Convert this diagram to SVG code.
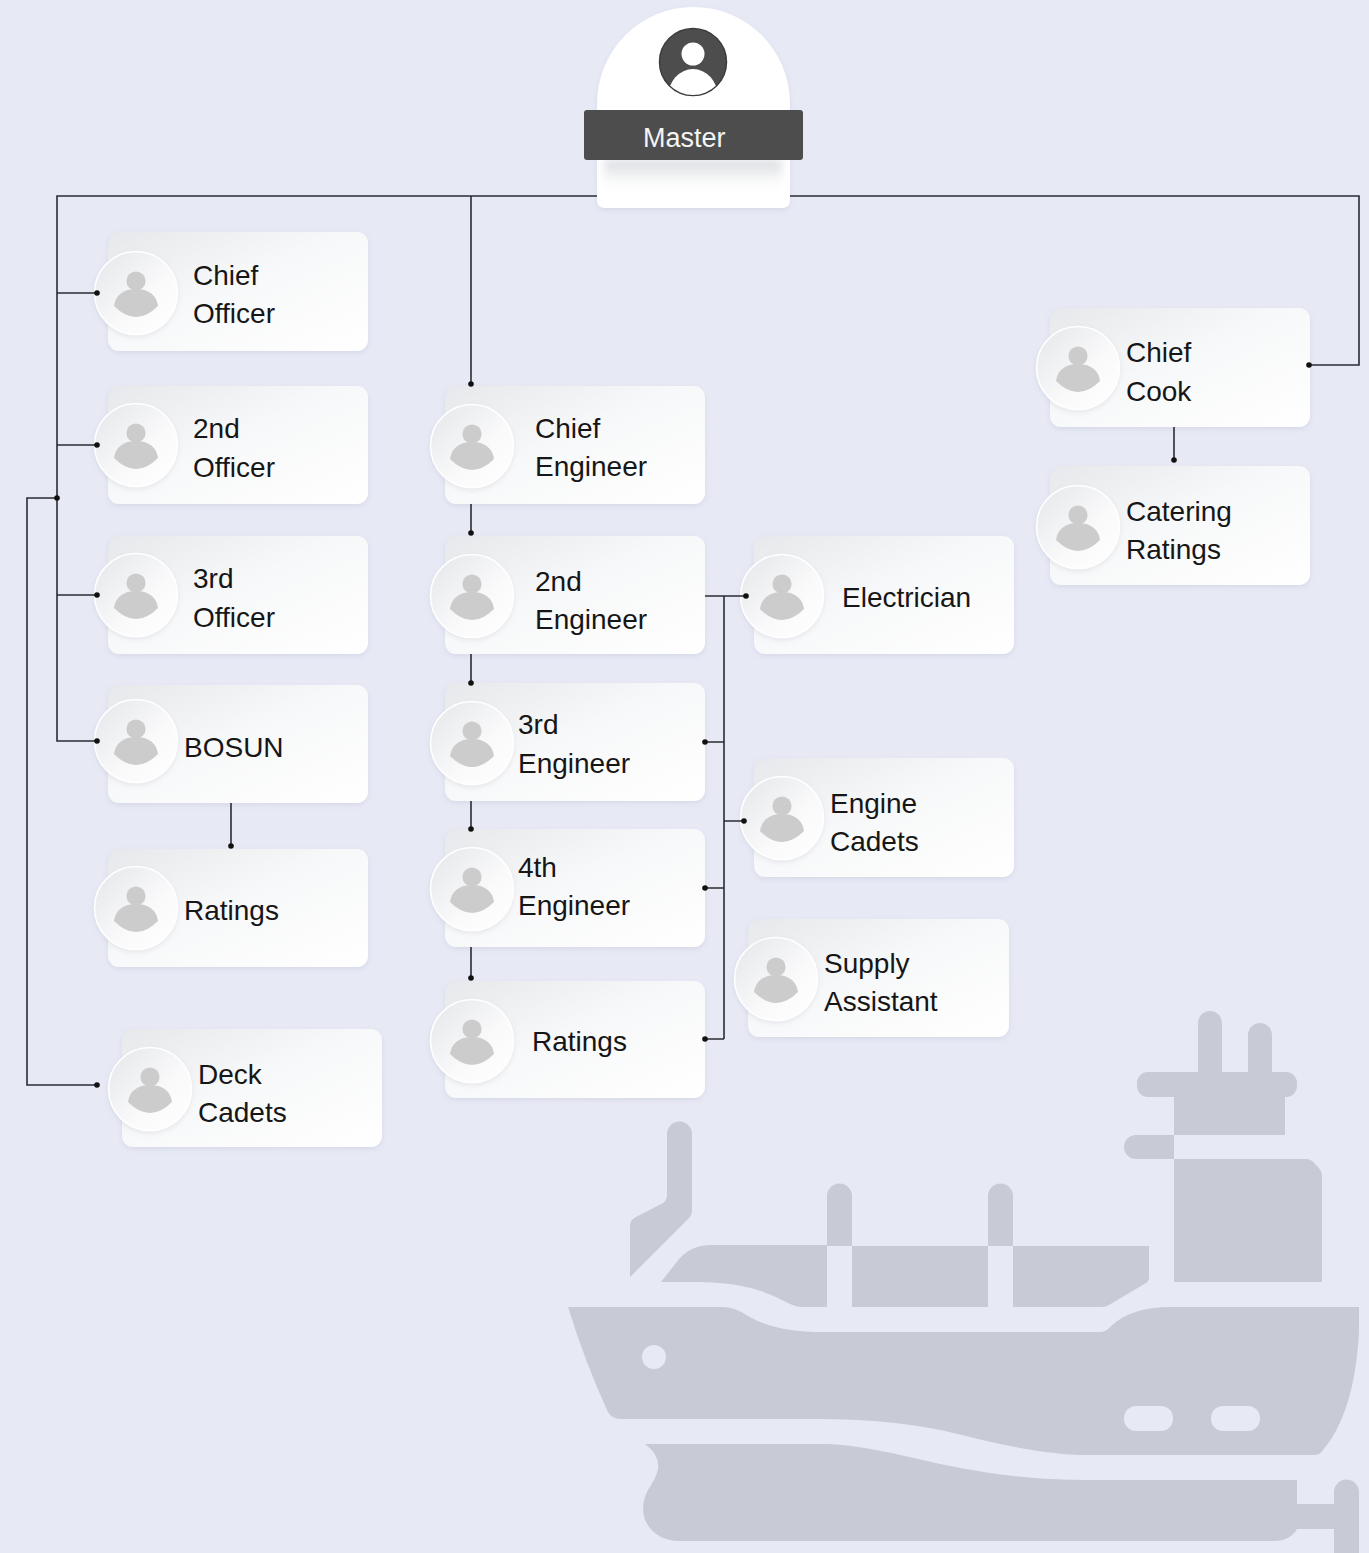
<svg xmlns="http://www.w3.org/2000/svg" xmlns:xlink="http://www.w3.org/1999/xlink" width="1369" height="1553" viewBox="0 0 1369 1553">
  <defs>
    <style>
      .bg { fill: #e7e9f5; }
      .card { fill: url(#cardGrad); filter: url(#soft); }
      .lbl { font-family: "Liberation Sans", Arial, sans-serif; font-size: 28px; fill: #161616; }
      .wire { fill: none; stroke: #2b2c33; stroke-width: 1.6; }
      .dot { fill: #111; }
      .ship { fill: #c8cbd6; }
      .hole { fill: #e7e9f5; }
    </style>
    <linearGradient id="cardGrad" x1="0" y1="0" x2="1" y2="1">
      <stop offset="0" stop-color="#e6e8eb"/>
      <stop offset="0.45" stop-color="#f7f8f9"/>
      <stop offset="1" stop-color="#ffffff"/>
    </linearGradient>
    <linearGradient id="avGrad" x1="0" y1="0" x2="1" y2="1">
      <stop offset="0" stop-color="#e4e6e9"/>
      <stop offset="0.6" stop-color="#fafafb"/>
      <stop offset="1" stop-color="#ffffff"/>
    </linearGradient>
    <linearGradient id="shade" x1="0" y1="0" x2="0" y2="1">
      <stop offset="0" stop-color="#d4d6dc"/>
      <stop offset="1" stop-color="#ffffff" stop-opacity="0"/>
    </linearGradient>
    <filter id="soft" x="-10%" y="-10%" width="120%" height="130%">
      <feDropShadow dx="0" dy="2" stdDeviation="2.5" flood-color="#8e93a8" flood-opacity="0.18"/>
    </filter>
    <filter id="blur4" x="-20%" y="-50%" width="140%" height="200%">
      <feGaussianBlur stdDeviation="4"/>
    </filter>
    <clipPath id="iconClip">
      <circle cx="693" cy="62" r="33"/>
    </clipPath>
    <!-- round portrait badge shared by every card -->
    <g id="avatar">
      <circle r="41.5" fill="url(#avGrad)" stroke="#ffffff" stroke-width="1.5" filter="url(#soft)"/>
      <circle cy="-12" r="9.6" fill="#cccccc"/>
      <path d="M-22,13 C-20,0 -10,-4 0,-4 C10,-4 20,0 22,13 Q0,35 -22,13 Z" fill="#cccccc"/>
    </g>
  </defs>

  <rect class="bg" x="0" y="0" width="1369" height="1553"/>

  <!-- ship silhouette -->
  <g id="ship">
    <path class="ship" d="M1198,1072 V1023 A12,12 0 0 1 1222,1023 V1072 Z"/>
    <path class="ship" d="M1248,1072 V1035 A12,12 0 0 1 1272,1035 V1072 Z"/>
    <rect class="ship" x="1137" y="1072" width="160" height="25" rx="11"/>
    <rect class="ship" x="1174" y="1096" width="111" height="39"/>
    <path class="ship" d="M1174,1135 H1136 A12,12 0 0 0 1136,1159 H1174 Z"/>
    <path class="ship" d="M1174,1159 H1306 Q1311,1159 1314,1163 L1318,1167 Q1322,1171 1322,1177 V1282 H1174 Z"/>
    <path class="ship" d="M827,1246 V1196 A12.5,12.5 0 0 1 852,1196 V1246 Z"/>
    <path class="ship" d="M988,1246 V1196 A12.5,12.5 0 0 1 1013,1196 V1246 Z"/>
    <path class="ship" d="M661,1282 L680,1258 Q692,1245 712,1245 H827 V1307 H803 Q795,1307 786,1302 Q750,1282 700,1282 Z"/>
    <rect class="ship" x="852" y="1246" width="136" height="61"/>
    <path class="ship" d="M1013,1246 H1149 V1277 Q1149,1281 1146,1283 L1109,1305 Q1106,1307 1101,1307 H1013 Z"/>
    <path class="ship" d="M667,1134 A12.5,12.5 0 0 1 692,1134 V1211 Q692,1214 690,1217 L630,1277 V1226 Q630,1220 636,1217 L663,1203 Q667,1200 667,1195 Z"/>
    <path class="ship" d="M568,1307 H722 Q735,1307 748,1316 Q775,1332 822,1332 H1100 Q1106,1332 1110,1327 Q1130,1307 1172,1307 H1359 V1332 C1356,1390 1342,1428 1323,1450 Q1320,1455 1314,1455 H1086 Q1040,1455 962,1435 Q900,1419 818,1419 H620 Q612,1419 608,1412 Q586,1365 568,1307 Z"/>
    <circle class="hole" cx="654" cy="1357" r="12"/>
    <rect class="hole" x="1124" y="1406" width="49" height="25" rx="12"/>
    <rect class="hole" x="1211" y="1406" width="49" height="25" rx="12"/>
    <path class="ship" d="M645,1444 H828 C900,1447 960,1480 1086,1480 H1297 V1504 H1334 V1492 A12.5,12.5 0 0 1 1359,1492 V1553 H1334 V1529 H1297 Q1290,1541 1274,1541 H680 Q655,1541 645,1520 Q640,1505 648,1490 Q656,1478 658,1469 Q660,1455 645,1444 Z"/>
  </g>

  <!-- top node -->
  <g id="master">
    <path d="M605,208 Q597,208 597,200 V103.5 A96.5,96.5 0 0 1 790,103.5 V200 Q790,208 782,208 Z" fill="#ffffff" filter="url(#soft)"/>
    <rect x="604" y="160" width="178" height="34" fill="url(#shade)" filter="url(#blur4)"/>
    <circle cx="693" cy="62" r="33.5" fill="#4d4d4d" stroke="#3c3c3c" stroke-width="1.5"/>
    <g clip-path="url(#iconClip)" fill="#ffffff">
      <circle cx="693" cy="54" r="11.5"/>
      <ellipse cx="693" cy="97" rx="25" ry="28"/>
    </g>
    <rect x="584" y="110" width="219" height="50" rx="3" fill="#4d4d4d"/>
    <text x="643" y="147" font-family="'Liberation Sans', Arial, sans-serif" font-size="27" fill="#f4f4f4">Master</text>
  </g>

  <!-- deck department -->
  <g id="chief-officer">
    <rect class="card" x="108" y="232" width="260" height="119" rx="11"/>
    <use xlink:href="#avatar" x="136" y="293"/>
    <text class="lbl" x="193" y="285">Chief</text>
    <text class="lbl" x="193" y="323">Officer</text>
  </g>
  <g id="second-officer">
    <rect class="card" x="108" y="386" width="260" height="118" rx="11"/>
    <use xlink:href="#avatar" x="136" y="445"/>
    <text class="lbl" x="193" y="438">2nd</text>
    <text class="lbl" x="193" y="477">Officer</text>
  </g>
  <g id="third-officer">
    <rect class="card" x="108" y="536" width="260" height="118" rx="11"/>
    <use xlink:href="#avatar" x="136" y="595"/>
    <text class="lbl" x="193" y="588">3rd</text>
    <text class="lbl" x="193" y="627">Officer</text>
  </g>
  <g id="bosun">
    <rect class="card" x="108" y="685" width="260" height="118" rx="11"/>
    <use xlink:href="#avatar" x="136" y="741"/>
    <text class="lbl" x="184" y="757">BOSUN</text>
  </g>
  <g id="deck-ratings">
    <rect class="card" x="108" y="849" width="260" height="118" rx="11"/>
    <use xlink:href="#avatar" x="136" y="908"/>
    <text class="lbl" x="184" y="920">Ratings</text>
  </g>
  <g id="deck-cadets">
    <rect class="card" x="122" y="1029" width="260" height="118" rx="11"/>
    <use xlink:href="#avatar" x="150" y="1089"/>
    <text class="lbl" x="198" y="1084">Deck</text>
    <text class="lbl" x="198" y="1122">Cadets</text>
  </g>

  <!-- engine department -->
  <g id="chief-engineer">
    <rect class="card" x="445" y="386" width="260" height="118" rx="11"/>
    <use xlink:href="#avatar" x="472" y="446"/>
    <text class="lbl" x="535" y="438">Chief</text>
    <text class="lbl" x="535" y="476">Engineer</text>
  </g>
  <g id="second-engineer">
    <rect class="card" x="445" y="536" width="260" height="118" rx="11"/>
    <use xlink:href="#avatar" x="472" y="596"/>
    <text class="lbl" x="535" y="591">2nd</text>
    <text class="lbl" x="535" y="629">Engineer</text>
  </g>
  <g id="third-engineer">
    <rect class="card" x="445" y="683" width="260" height="118" rx="11"/>
    <use xlink:href="#avatar" x="472" y="743"/>
    <text class="lbl" x="518" y="734">3rd</text>
    <text class="lbl" x="518" y="773">Engineer</text>
  </g>
  <g id="fourth-engineer">
    <rect class="card" x="445" y="829" width="260" height="118" rx="11"/>
    <use xlink:href="#avatar" x="472" y="889"/>
    <text class="lbl" x="518" y="877">4th</text>
    <text class="lbl" x="518" y="915">Engineer</text>
  </g>
  <g id="engine-ratings">
    <rect class="card" x="445" y="981" width="260" height="117" rx="11"/>
    <use xlink:href="#avatar" x="472" y="1041"/>
    <text class="lbl" x="532" y="1051">Ratings</text>
  </g>
  <g id="electrician">
    <rect class="card" x="754" y="536" width="260" height="118" rx="11"/>
    <use xlink:href="#avatar" x="782" y="596"/>
    <text class="lbl" x="842" y="607">Electrician</text>
  </g>
  <g id="engine-cadets">
    <rect class="card" x="754" y="758" width="260" height="119" rx="11"/>
    <use xlink:href="#avatar" x="782" y="818"/>
    <text class="lbl" x="830" y="813">Engine</text>
    <text class="lbl" x="830" y="851">Cadets</text>
  </g>
  <g id="supply-assistant">
    <rect class="card" x="748" y="919" width="261" height="118" rx="11"/>
    <use xlink:href="#avatar" x="776" y="979"/>
    <text class="lbl" x="824" y="973">Supply</text>
    <text class="lbl" x="824" y="1011">Assistant</text>
  </g>

  <!-- catering department -->
  <g id="chief-cook">
    <rect class="card" x="1050" y="308" width="260" height="119" rx="11"/>
    <use xlink:href="#avatar" x="1078" y="368"/>
    <text class="lbl" x="1126" y="362">Chief</text>
    <text class="lbl" x="1126" y="401">Cook</text>
  </g>
  <g id="catering-ratings">
    <rect class="card" x="1050" y="466" width="260" height="119" rx="11"/>
    <use xlink:href="#avatar" x="1078" y="527"/>
    <text class="lbl" x="1126" y="521">Catering</text>
    <text class="lbl" x="1126" y="559">Ratings</text>
  </g>

  <!-- connectors, drawn last so the end dots sit on the cards -->
  <g id="connectors">
    <path class="wire" d="M597,196 H57 V741 H97"/>
    <path class="wire" d="M790,196 H1359 V365 H1309"/>
    <path class="wire" d="M471,196 V384"/>
    <path class="wire" d="M57,293 H97 M57,445 H97 M57,595 H97"/>
    <path class="wire" d="M57,498 H27 V1085 H97"/>
    <path class="wire" d="M231,803 V846"/>
    <path class="wire" d="M471,504 V533 M471,654 V683 M471,801 V829 M471,947 V978"/>
    <path class="wire" d="M705,596 H746 M724,596 V1039 M705,742 H724 M724,821 H744 M705,888 H724 M705,1039 H724"/>
    <path class="wire" d="M1174,427 V460"/>
    <g class="dot">
      <circle cx="97" cy="293" r="2.8"/>
      <circle cx="97" cy="445" r="2.8"/>
      <circle cx="97" cy="595" r="2.8"/>
      <circle cx="97" cy="741" r="2.8"/>
      <circle cx="57" cy="498" r="2.8"/>
      <circle cx="97" cy="1085" r="2.8"/>
      <circle cx="231" cy="846" r="2.8"/>
      <circle cx="471" cy="384" r="2.8"/>
      <circle cx="471" cy="533" r="2.8"/>
      <circle cx="471" cy="683" r="2.8"/>
      <circle cx="471" cy="829" r="2.8"/>
      <circle cx="471" cy="978" r="2.8"/>
      <circle cx="746" cy="596" r="2.8"/>
      <circle cx="705" cy="742" r="2.8"/>
      <circle cx="744" cy="821" r="2.8"/>
      <circle cx="705" cy="888" r="2.8"/>
      <circle cx="705" cy="1039" r="2.8"/>
      <circle cx="1309" cy="365" r="2.8"/>
      <circle cx="1174" cy="460" r="2.8"/>
    </g>
  </g>
</svg>
